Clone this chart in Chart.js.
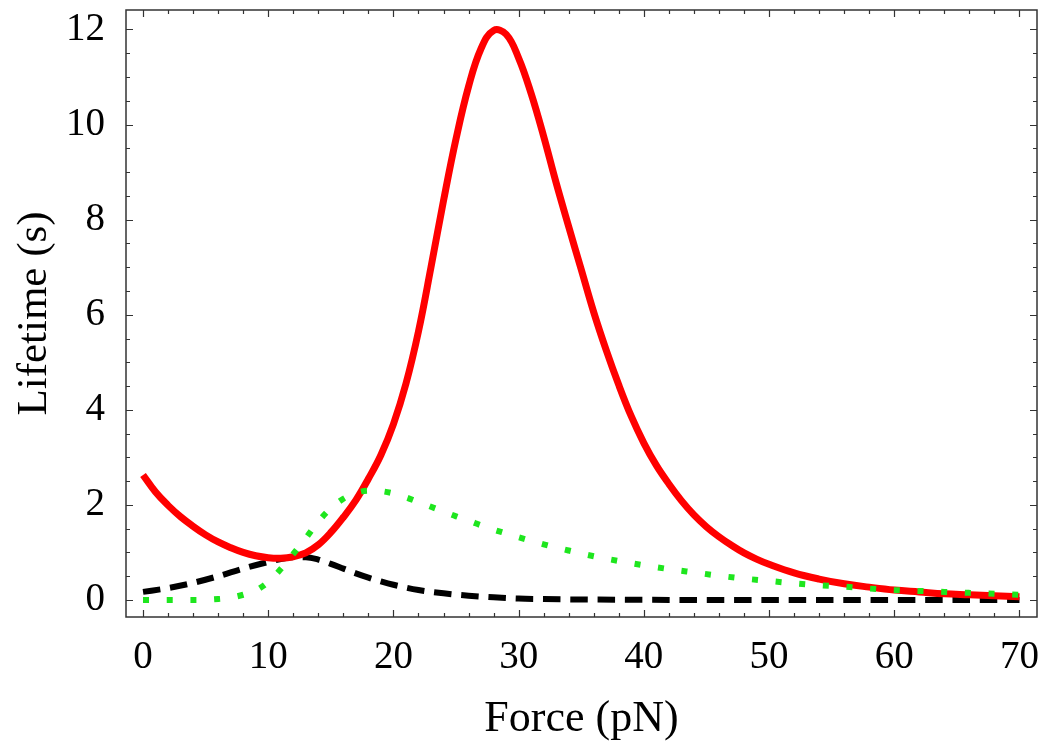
<!DOCTYPE html>
<html>
<head>
<meta charset="utf-8">
<script src="https://cdn.jsdelivr.net/npm/chart.js@4.4.1/dist/chart.umd.min.js"></script>
<style>
  html, body { margin: 0; padding: 0; background: #ffffff; }
  #wrap { width: 1050px; height: 749px; }
</style>
</head>
<body>
<div id="wrap"><canvas id="c" width="1050" height="749"></canvas></div>
<script>
// ---- data ----
const forceRed = [0,1,2,3,4,5,6,7,8,9,10,11,12,13,14,15,16,17,18,19,20,21,22,23,24,25,26,27,28,29,30,31,32,33,34,35,36,37,38,39,40,41,42,43,44,45,46,47,48,49,50,52,54,56,58,60,62,64,66,68,70];
const lifetimeRed = [2.63,2.27,1.99,1.75,1.55,1.37,1.22,1.10,1.00,0.93,0.89,0.88,0.91,0.99,1.16,1.42,1.74,2.10,2.55,3.05,3.70,4.55,5.65,7.0,8.4,9.7,10.8,11.6,11.98,11.9,11.4,10.65,9.75,8.77,7.85,6.95,6.05,5.25,4.52,3.86,3.3,2.83,2.44,2.09,1.79,1.54,1.33,1.15,0.99,0.86,0.75,0.57,0.44,0.34,0.27,0.21,0.17,0.13,0.11,0.09,0.07];

const forceGreen = [0,2,4,6,7,8,9,10,11,12,13,14,15,16,17,18,19,20,21,22,23,24,25,26,27,28,29,30,32,34,36,38,40,42,44,46,48,50,52,54,56,58,60,62,64,66,68,70];
const lifetimeGreen = [0,0,0,0.02,0.05,0.11,0.2,0.38,0.65,0.97,1.3,1.65,1.93,2.13,2.25,2.3,2.29,2.24,2.16,2.06,1.96,1.86,1.76,1.67,1.57,1.48,1.40,1.32,1.17,1.04,0.92,0.82,0.73,0.65,0.58,0.51,0.45,0.4,0.35,0.31,0.28,0.24,0.21,0.19,0.17,0.15,0.13,0.11];

const forceBlack = [0,2,4,6,8,10,11,12,13,14,15,16,17,18,19,20,22,24,26,28,30,32,35,40,45,50,55,60,65,70];
const lifetimeBlack = [0.17,0.25,0.36,0.5,0.66,0.8,0.86,0.9,0.9,0.85,0.76,0.66,0.56,0.47,0.39,0.32,0.21,0.14,0.09,0.055,0.03,0.02,0.01,0.004,0,0,0,0,0,0];

const xTickLabels = [0,10,20,30,40,50,60,70];
const yTickLabels = [0,2,4,6,8,10,12];

const xTitle = 'Force (pN)';
const yTitle = 'Lifetime (s)';

// ---- helpers ----
const pts = (xs, ys) => xs.map((x, i) => ({ x: x, y: ys[i] }));
const FONT = "'Liberation Serif', 'Times New Roman', serif";

// frame + inward ticks drawn through the chart's own scales
const framePlugin = {
  id: 'frame',
  afterDraw(chart) {
    const { ctx, chartArea: a, scales: { x, y } } = chart;
    ctx.save();
    ctx.strokeStyle = '#333333';
    ctx.lineWidth = 1.5;
    ctx.strokeRect(a.left, a.top, a.right - a.left, a.bottom - a.top);
    ctx.lineWidth = 1.2;
    ctx.beginPath();
    for (let v = 0; v <= 70.001; v += 2) {
      const px = Math.round(x.getPixelForValue(v)) + 0.5;
      const len = (Math.abs(v % 10) < 1e-6) ? 7 : 4;
      ctx.moveTo(px, a.bottom); ctx.lineTo(px, a.bottom - len);
      ctx.moveTo(px, a.top); ctx.lineTo(px, a.top + len);
    }
    for (let v = 0; v <= 12.001; v += 0.5) {
      const py = Math.round(y.getPixelForValue(v)) + 0.5;
      const len = (Math.abs(v % 2) < 1e-6) ? 7 : 4;
      ctx.moveTo(a.left, py); ctx.lineTo(a.left + len, py);
      ctx.moveTo(a.right, py); ctx.lineTo(a.right - len, py);
    }
    ctx.stroke();
    ctx.restore();
  }
};

new Chart(document.getElementById('c'), {
  type: 'line',
  data: {
    datasets: [
      {
        label: 'green',
        data: pts(forceGreen, lifetimeGreen),
        borderColor: '#1ee61e',
        borderWidth: 6,
        borderDash: [6, 17.7],
        borderCapStyle: 'butt',
        pointRadius: 0,
        fill: false,
        cubicInterpolationMode: 'monotone'
      },
      {
        label: 'red',
        data: pts(forceRed, lifetimeRed),
        borderColor: '#ff0000',
        borderWidth: 7,
        pointRadius: 0,
        fill: false,
        tension: 0.4
      },
      {
        label: 'black',
        data: pts(forceBlack, lifetimeBlack),
        borderColor: '#000000',
        borderWidth: 6,
        borderDash: [17.5, 9.8],
        borderCapStyle: 'butt',
        pointRadius: 0,
        fill: false,
        cubicInterpolationMode: 'monotone'
      }
    ]
  },
  options: {
    responsive: false,
    animation: false,
    devicePixelRatio: 1,
    layout: { padding: { top: 10, right: 13, left: 0, bottom: 0 } },
    plugins: { legend: { display: false }, tooltip: { enabled: false } },
    scales: {
      x: {
        type: 'linear',
        min: -1.36,
        max: 71.4,
        grid: { display: false },
        border: { display: false },
        afterBuildTicks: (s) => { s.ticks = xTickLabels.map(v => ({ value: v })); },
        afterFit: (s) => { s.height = 132; s.paddingLeft = 0; s.paddingRight = 0; },
        ticks: {
          autoSkip: false,
          maxRotation: 0,
          padding: 9,
          color: '#000000',
          font: { family: FONT, size: 39 },
          callback: (v) => String(v)
        },
        title: {
          display: true,
          text: xTitle,
          color: '#000000',
          font: { family: FONT, size: 44 },
          padding: { top: 0, bottom: 3 }
        }
      },
      y: {
        type: 'linear',
        min: -0.358,
        max: 12.41,
        grid: { display: false },
        border: { display: false },
        afterBuildTicks: (s) => { s.ticks = yTickLabels.map(v => ({ value: v })); },
        afterFit: (s) => { s.width = 126; s.paddingTop = 0; s.paddingBottom = 0; },
        ticks: {
          autoSkip: false,
          padding: 13,
          color: '#000000',
          font: { family: FONT, size: 39 },
          callback: (v) => String(v)
        },
        title: {
          display: true,
          text: yTitle,
          color: '#000000',
          font: { family: FONT, size: 43 },
          padding: { top: 9, bottom: 0 }
        }
      }
    }
  },
  plugins: [framePlugin]
});
</script>
</body>
</html>
